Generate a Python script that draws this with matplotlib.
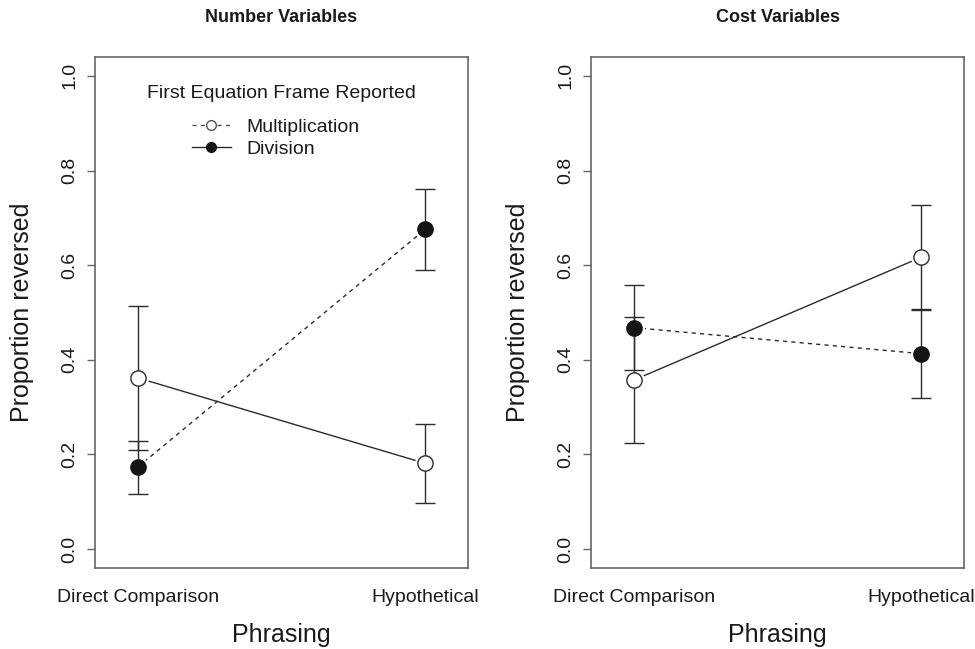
import matplotlib
matplotlib.use("Agg")
import matplotlib.pyplot as plt
from matplotlib.lines import Line2D

plt.rcParams['font.family'] = ['Liberation Sans', 'DejaVu Sans']

phrasing = ["Direct Comparison", "Hypothetical"]
panel_titles = ["Number Variables", "Cost Variables"]
series_names = ["Multiplication", "Division"]
legend_title = "First Equation Frame Reported"
yticks = [0.0, 0.2, 0.4, 0.6, 0.8, 1.0]
ytick_labels = ["0.0", "0.2", "0.4", "0.6", "0.8", "1.0"]

# Number Variables panel
num_mult = [0.362, 0.181]
num_mult_err = [0.152, 0.084]
num_div = [0.173, 0.676]
num_div_err = [0.056, 0.086]
# Cost Variables panel
cost_mult = [0.357, 0.617]
cost_mult_err = [0.133, 0.110]
cost_div = [0.468, 0.413]
cost_div_err = [0.090, 0.093]

panels = [
    (num_mult, num_mult_err, num_div, num_div_err),
    (cost_mult, cost_mult_err, cost_div, cost_div_err),
]

W, H = 975, 649
fig = plt.figure(figsize=(W / 100, H / 100), dpi=100)

ax_left_px = [95, 591]
ax_w_px = 373
ax_top_px, ax_bot_px = 57, 568
ax_h_px = ax_bot_px - ax_top_px

line_c = '#2b2b2b'
spine_c = '#666666'
txt_c = '#1a1a1a'
dash = (0, (3, 3))

for i, (mult, mult_err, div, div_err) in enumerate(panels):
    l = ax_left_px[i]
    ax = fig.add_axes([l / W, 1 - ax_bot_px / H, ax_w_px / W, ax_h_px / H])
    x = [1, 2]
    ax.plot(x, mult, color=line_c, lw=1.0, ls='-', zorder=1)
    ax.plot(x, div, color=line_c, lw=1.0, ls=dash, zorder=1)
    # gaps around points
    ax.plot(x, mult, 'o', ms=14, mfc='white', mec='white', zorder=2)
    ax.plot(x, div, 'o', ms=14, mfc='white', mec='white', zorder=2)
    ax.errorbar(x, mult, yerr=mult_err, fmt='none', ecolor=line_c, elinewidth=1.0,
                capsize=7.2, capthick=1.0, zorder=3)
    ax.errorbar(x, div, yerr=div_err, fmt='none', ecolor=line_c, elinewidth=1.0,
                capsize=7.2, capthick=1.0, zorder=3)
    ax.plot(x, mult, 'o', ms=11, mfc='white', mec=line_c, mew=1.0, zorder=4)
    ax.plot(x, div, 'o', ms=11, mfc='#151515', mec='#151515', mew=1.0, zorder=4)

    ax.set_xlim(0.852, 2.148)
    ax.set_ylim(-0.04, 1.04)
    ax.set_xticks(x)
    ax.set_xticklabels(phrasing, fontsize=14, color=txt_c)
    ax.tick_params(axis='x', length=0, pad=15)
    ax.set_yticks(yticks)
    ax.set_yticklabels(ytick_labels, fontsize=14, color=txt_c, rotation=90, va='center')
    ax.tick_params(axis='y', length=6, width=1.0, color=spine_c, pad=6)
    for s in ax.spines.values():
        s.set_color(spine_c)
        s.set_linewidth(1.2)

    cx = (l + ax_w_px / 2) / W
    fig.text(cx, 1 - 18 / H, panel_titles[i], ha='center', va='center',
             fontsize=13, fontweight='bold', color=txt_c)
    fig.text(cx, 1 - 635 / H, "Phrasing", ha='center', va='center',
             fontsize=18, color=txt_c)
    fig.text((l - 73) / W, 1 - ((ax_top_px + ax_bot_px) / 2) / H, "Proportion reversed",
             ha='center', va='center', rotation=90, fontsize=18, color=txt_c)

    if i == 0:
        ax.text(0.5, (ax_bot_px - 93) / ax_h_px, legend_title, transform=ax.transAxes,
                ha='center', va='center', fontsize=14, color=txt_c)
        handles = [
            Line2D([], [], color='#555555', lw=1.0, ls=dash, marker='o', ms=7,
                   mfc='white', mec='#555555'),
            Line2D([], [], color=line_c, lw=1.0, ls='-', marker='o', ms=7,
                   mfc='#151515', mec='#151515'),
        ]
        leg = ax.legend(handles, series_names, frameon=False,
                        loc='upper center',
                        bbox_to_anchor=(0.484, (ax_bot_px - 101) / ax_h_px),
                        fontsize=14, handlelength=2.0, handletextpad=0.8,
                        labelspacing=0.2)
        for t in leg.get_texts():
            t.set_color(txt_c)

fig.savefig("out.png", dpi=100, facecolor='white')
